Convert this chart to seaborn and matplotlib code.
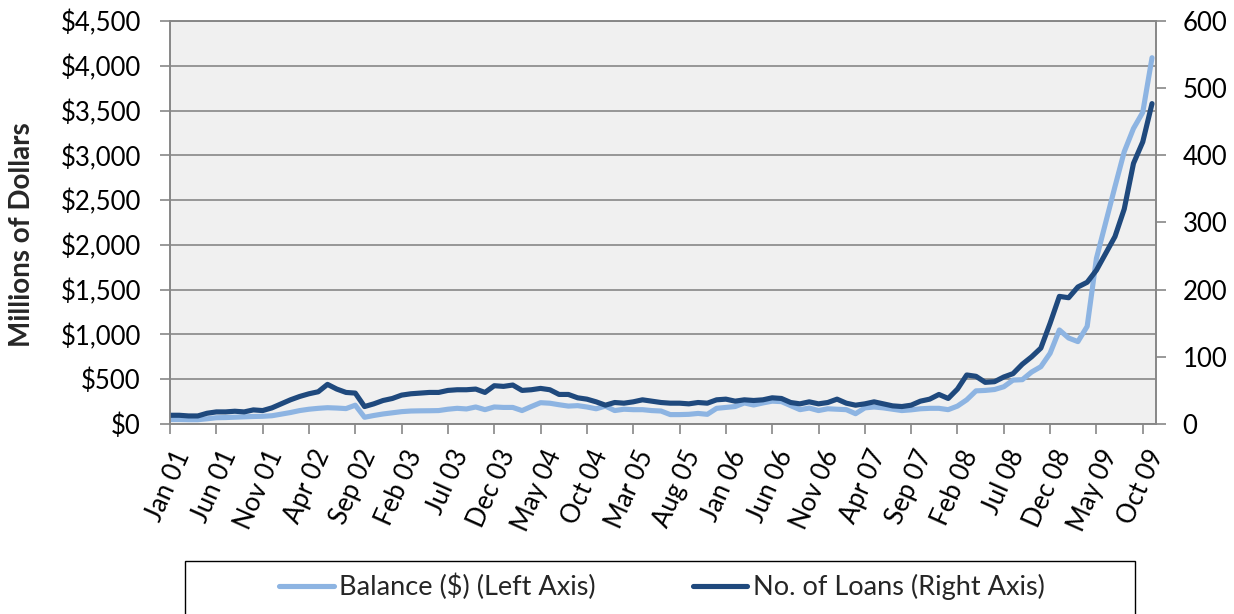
import numpy as np
import pandas as pd
import matplotlib
matplotlib.use("Agg")
import matplotlib.pyplot as plt
import matplotlib.ticker as mticker
import matplotlib.transforms as mtransforms
from matplotlib.lines import Line2D
from matplotlib.patches import Rectangle
import seaborn as sns

# Monthly series, Jan 2001 - Nov 2009
START_MONTH = "2001-01"

BALANCE = [
    50, 50, 48, 48, 58, 70, 72, 76, 80, 84,
    86, 92, 110, 128, 150, 165, 175, 182, 178, 172,
    210, 75, 95, 112, 125, 138, 145, 147, 148, 150,
    165, 175, 168, 190, 160, 190, 185, 185, 150, 195,
    238, 232, 215, 200, 205, 190, 170, 200, 150, 165,
    160, 160, 150, 145, 105, 105, 108, 118, 108, 175,
    185, 195, 235, 212, 235, 255, 250, 205, 160, 178,
    150, 170, 165, 160, 115, 180, 190, 180, 165, 150,
    158, 170, 175, 175, 160, 200, 270, 370, 375, 385,
    416, 490, 495, 580, 640, 790, 1050, 960, 920, 1090,
    1850, 2250, 2650, 3040, 3300, 3480, 4090,
]

LOANS = [
    13, 13, 12, 12, 16, 18, 18, 19, 18, 21,
    20, 24, 30, 36, 41, 45, 48, 59, 52, 47,
    46, 26, 30, 35, 38, 43, 45, 46, 47, 47,
    50, 51, 51, 52, 47, 57, 56, 58, 50, 51,
    53, 51, 44, 44, 39, 37, 33, 28, 32, 31,
    33, 36, 34, 32, 31, 31, 30, 32, 31, 36,
    37, 34, 36, 35, 36, 39, 38, 32, 30, 33,
    30, 32, 37, 31, 28, 30, 33, 30, 27, 26,
    28, 34, 37, 44, 38, 52, 73, 71, 62, 63,
    70, 75, 89, 100, 113, 150, 190, 188, 204, 211,
    229, 254, 279, 320, 388, 420, 477,
]

TICK_LABELS = [
    "Jan 01", "Jun 01", "Nov 01", "Apr 02", "Sep 02", "Feb 03", "Jul 03",
    "Dec 03", "May 04", "Oct 04", "Mar 05", "Aug 05", "Jan 06", "Jun 06",
    "Nov 06", "Apr 07", "Sep 07", "Feb 08", "Jul 08", "Dec 08", "May 09",
    "Oct 09",
]

LEFT_TICKS = [0, 500, 1000, 1500, 2000, 2500, 3000, 3500, 4000, 4500]
RIGHT_TICKS = [0, 100, 200, 300, 400, 500, 600]

LIGHT = "#8DB4E2"
DARK = "#1F497D"
GRID = "#878787"

sns.set_style("white")
plt.rcParams["font.family"] = ["Lato", "DejaVu Sans"]

df = pd.DataFrame({
    "month": pd.date_range(START_MONTH, periods=len(BALANCE), freq="MS"),
    "balance": BALANCE,
    "loans": LOANS,
})
df["pos"] = np.arange(len(df))

W, H = 1234, 614
fig = plt.figure(figsize=(W / 100, H / 100), dpi=100)
ax = fig.add_axes([170 / W, 1 - 424 / H, (1156 - 170) / W, (424 - 21) / H])
ax.set_facecolor("#F0F0F0")
ax2 = ax.twinx()

sns.lineplot(data=df, x="pos", y="balance", ax=ax, color=LIGHT, linewidth=3.7,
             solid_joinstyle="round", solid_capstyle="round")
sns.lineplot(data=df, x="pos", y="loans", ax=ax2, color=DARK, linewidth=3.7,
             solid_joinstyle="round", solid_capstyle="round")

ax.set_xlim(0, len(df) - 1 + 0.43)
ax.set_ylim(0, 4500)
ax2.set_ylim(0, 600)
ax.set_xlabel("")
ax.set_ylabel("")
ax2.set_ylabel("")

ax.set_yticks(LEFT_TICKS)
ax.yaxis.set_major_formatter(mticker.FuncFormatter(lambda v, p: f"${v:,.0f}"))
ax2.set_yticks(RIGHT_TICKS)

ax.grid(axis="y", color=GRID, linewidth=1.2)
ax.grid(axis="x", visible=False)
ax.set_axisbelow(True)
for a in (ax, ax2):
    for s in a.spines.values():
        s.set_color(GRID)
        s.set_linewidth(1.2)

FS = 18.5
ax.tick_params(axis="y", direction="out", length=7, width=1.2, color=GRID,
               pad=14, labelsize=FS, labelcolor="black", left=True)
ax2.tick_params(axis="y", direction="out", length=7, width=1.2, color=GRID,
                pad=12, labelsize=FS, labelcolor="black", right=True)
ax.tick_params(axis="x", direction="out", length=7, width=1.2, color=GRID,
               pad=4, labelsize=FS, labelcolor="black", bottom=True)

ax.set_xticks(df["pos"][::5].tolist())
ax.set_xticklabels(TICK_LABELS, rotation=66, ha="right", va="center",
                   rotation_mode="anchor")
offset = mtransforms.ScaledTranslation(14 / 100, -12 / 100, fig.dpi_scale_trans)
for lab in ax.get_xticklabels():
    lab.set_transform(lab.get_transform() + offset)

fig.text(22 / W, 1 - 235 / H, "Millions of Dollars", rotation=90,
         fontweight="bold", fontsize=20, ha="center", va="center")

# legend frame runs off the bottom of the picture
fig.patches.append(Rectangle((185 / W, -0.05), (1135 - 185) / W, 0.05 + 1 - 561 / H,
                             transform=fig.transFigure, fill=False,
                             edgecolor="black", linewidth=1.0))
handles = [Line2D([], [], color=LIGHT, linewidth=3.7),
           Line2D([], [], color=DARK, linewidth=3.7)]
fig.legend(handles, ["Balance ($) (Left Axis)", "No. of Loans (Right Axis)"],
           loc="center", bbox_to_anchor=(662 / W, 1 - 587 / H), ncol=2,
           frameon=False, fontsize=19.5, handlelength=2.0,
           handletextpad=0.2, columnspacing=3.6)

fig.savefig("out.png", dpi=100)
